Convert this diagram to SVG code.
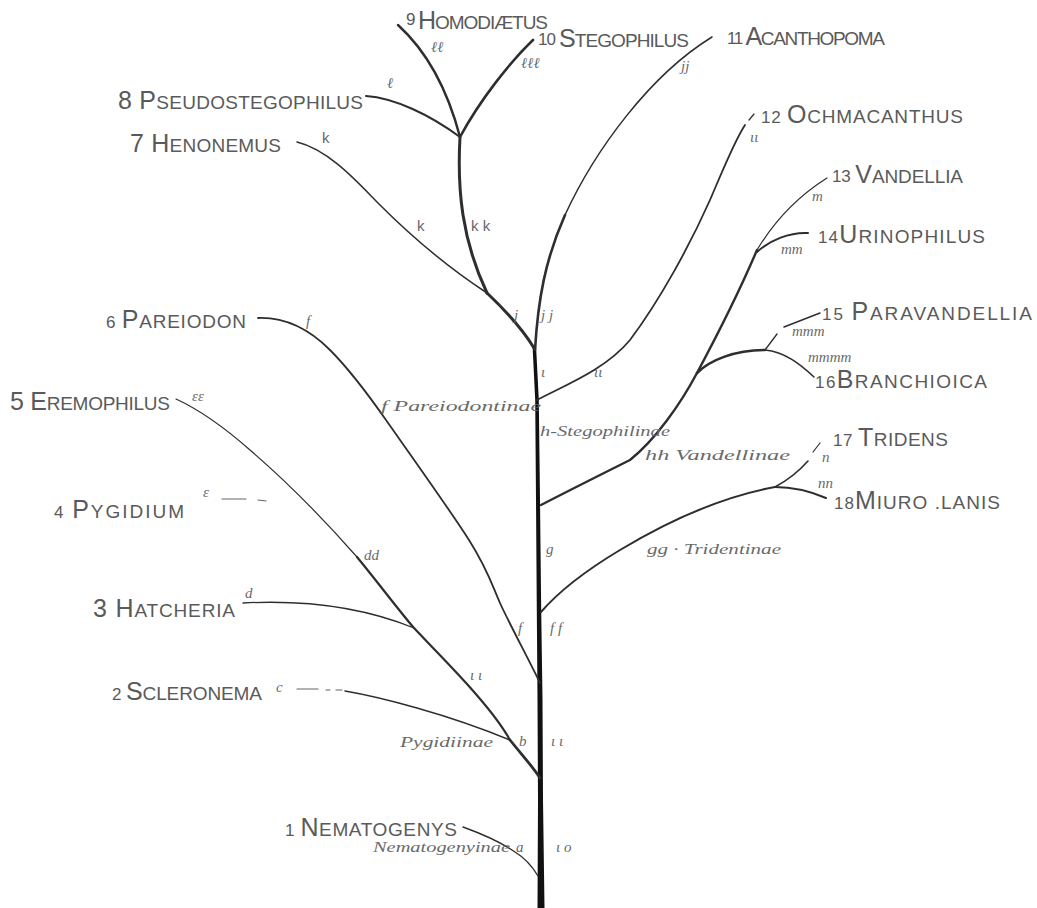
<svg xmlns="http://www.w3.org/2000/svg" width="1037" height="908" viewBox="0 0 1037 908">
<style>
.lbl{font-family:"Liberation Sans",Arial,sans-serif;fill:#5a5a5a}
.num{font-size:17px}
.cap{font-size:25px}
.sc{font-size:19px}
.cur{font-family:"Liberation Serif","Times New Roman",serif;font-style:italic;fill:#6a6a6a;font-size:15px}
.mk{font-family:"Liberation Sans",Arial,sans-serif;fill:#666;font-size:15px}
.br{fill:none;stroke:#2e2e2e;stroke-linecap:round;stroke-linejoin:round}
.th{fill:none;stroke:#666;stroke-linecap:round}
</style>
<rect width="1037" height="908" fill="#fff"/>
<g id="connectors">
  <path d="M537.5,908 L538,800 L537.5,700 L536.8,610 L536,500 L535.2,400 L532.5,345 L536,345 L538.8,400 L540,500 L541.2,610 L542.5,700 L543,800 L544.5,908 Z" fill="#111"/>
  <path class="br" stroke-width="2.4" d="M398,25 C420,45 445,80 460,137"/>
  <path class="br" stroke-width="2.6" d="M533,40 C510,62 480,100 460,137"/>
  <path class="br" stroke-width="2" d="M366,96 C395,98 430,115 460,137"/>
  <path class="br" stroke-width="3" d="M460,137 C457,190 462,240 487,293"/>
  <path class="br" stroke-width="1.5" d="M297,142 C330,150 360,185 380,205 C420,245 455,272 487,293"/>
  <path class="br" stroke-width="3" d="M487,293 C505,310 522,328 534,348"/>
  <path class="br" stroke-width="2.6" d="M535,350 C538,300 545,260 565,215"/>
  <path class="br" stroke-width="1.5" d="M565,215 C595,150 650,75 712,37"/>
  <path class="br" stroke-width="1.8" d="M537,400 C565,385 605,370 630,340 C660,300 690,245 710,200 C725,165 735,140 745,125"/>
  <path class="br" stroke-width="1.2" d="M749,120 L754,114"/>
  <path class="br" stroke-width="2.4" d="M541,505 C570,490 610,470 630,460 C655,440 680,405 697,373 C720,330 740,290 757,250"/>
  <path class="br" stroke-width="1.2" d="M757,250 C775,220 800,195 827,178"/>
  <path class="br" stroke-width="2" d="M757,252 C770,240 790,232 808,233"/>
  <path class="br" stroke-width="2.6" d="M697,373 C710,360 735,350 765,350"/>
  <path class="br" stroke-width="1.3" d="M765,350 L777,334"/>
  <path class="br" stroke-width="1.5" d="M784,327 L820,313"/>
  <path class="br" stroke-width="1.6" d="M765,350 C785,352 800,364 814,377"/>
  <path class="br" stroke-width="2" d="M541,612 C560,590 590,568 620,550 C670,520 720,497 775,487"/>
  <path class="br" stroke-width="1.6" d="M775,487 C788,480 800,470 808,461"/>
  <path class="br" stroke-width="1.2" d="M813,452 L820,443"/>
  <path class="br" stroke-width="2" d="M775,487 C795,487 812,492 826,498"/>
  <path class="br" stroke-width="1.8" d="M258,318 C285,317 310,330 330,350 S372,400 386,420 S450,510 469,540 S492,585 500,603 S530,662 540,683"/>
  <path class="br" stroke-width="1.2" d="M176,399 C200,410 225,428 250,450 C285,480 320,515 357,557"/>
  <path class="br" stroke-width="2.2" d="M357,557 C380,585 400,612 414,628 C430,645 450,665 467,684 C485,704 500,722 510,740"/>
  <path class="br" stroke-width="2.8" d="M510,740 C522,755 533,767 540,778"/>
  <path class="br" stroke-width="1.3" d="M243,603 C300,600 360,606 414,628"/>
  <path class="th" stroke-width="1.2" d="M297,689 L318,689 M326,690 L330,690 M336,690 L342,690"/>
  <path class="br" stroke-width="1.4" d="M345,691 C380,697 447,714 510,740"/>
  <path class="br" stroke-width="1.4" d="M463,827 C485,835 505,845 515,852 C525,858 532,866 538,876"/>
  <path class="th" stroke-width="1.2" d="M222,499 L246,499 M258,500 L266,501"/>
</g>
<g id="n9"><text class="lbl" x="406" y="29" textLength="142" lengthAdjust="spacing"><tspan class="num" dy="-4">9 </tspan><tspan class="cap" dy="4">H</tspan><tspan class="sc">OMODIÆTUS</tspan></text></g>
<g id="n10"><text class="lbl" x="538" y="47" textLength="151" lengthAdjust="spacing"><tspan class="num" dy="-2">10 </tspan><tspan class="cap" dy="2">S</tspan><tspan class="sc">TEGOPHILUS</tspan></text></g>
<g id="n11"><text class="lbl" x="727" y="45" textLength="158" lengthAdjust="spacing"><tspan class="num" dy="-1">11 </tspan><tspan class="cap" dy="1">A</tspan><tspan class="sc">CANTHOPOMA</tspan></text></g>
<g id="n8"><text class="lbl" x="118" y="109" textLength="245" lengthAdjust="spacing"><tspan class="cap">8 P</tspan><tspan class="sc">SEUDOSTEGOPHILUS</tspan></text></g>
<g id="n7"><text class="lbl" x="130" y="152" textLength="151" lengthAdjust="spacing"><tspan class="cap">7 H</tspan><tspan class="sc">ENONEMUS</tspan></text></g>
<g id="n12"><text class="lbl" x="761" y="123" textLength="202" lengthAdjust="spacing"><tspan class="num">12 </tspan><tspan class="cap">O</tspan><tspan class="sc">CHMACANTHUS</tspan></text></g>
<g id="n13"><text class="lbl" x="832" y="183" textLength="131" lengthAdjust="spacing"><tspan class="num" dy="-1">13 </tspan><tspan class="cap" dy="1">V</tspan><tspan class="sc">ANDELLIA</tspan></text></g>
<g id="n14"><text class="lbl" x="818" y="243" textLength="167" lengthAdjust="spacing"><tspan class="num">14</tspan><tspan class="cap">U</tspan><tspan class="sc">RINOPHILUS</tspan></text></g>
<g id="n15"><text class="lbl" x="822" y="320" textLength="210" lengthAdjust="spacing"><tspan class="num">15 </tspan><tspan class="cap">P</tspan><tspan class="sc">ARAVANDELLIA</tspan></text></g>
<g id="n16"><text class="lbl" x="815" y="388" textLength="172" lengthAdjust="spacing"><tspan class="num">16</tspan><tspan class="cap">B</tspan><tspan class="sc">RANCHIOICA</tspan></text></g>
<g id="n17"><text class="lbl" x="833" y="446" textLength="115" lengthAdjust="spacing"><tspan class="num">17 </tspan><tspan class="cap">T</tspan><tspan class="sc">RIDENS</tspan></text></g>
<g id="n18"><text class="lbl" x="834" y="509" textLength="166" lengthAdjust="spacing"><tspan class="num">18</tspan><tspan class="cap">M</tspan><tspan class="sc">IURO .LANIS</tspan></text></g>
<g id="n6"><text class="lbl" x="106" y="328" textLength="140" lengthAdjust="spacing"><tspan class="num">6 </tspan><tspan class="cap">P</tspan><tspan class="sc">AREIODON</tspan></text></g>
<g id="n5"><text class="lbl" x="10" y="410" textLength="160" lengthAdjust="spacing"><tspan class="cap">5 E</tspan><tspan class="sc">REMOPHILUS</tspan></text></g>
<g id="n4"><text class="lbl" x="54" y="518" textLength="130" lengthAdjust="spacing"><tspan class="num">4 </tspan><tspan class="cap">P</tspan><tspan class="sc">YGIDIUM</tspan></text></g>
<g id="n3"><text class="lbl" x="93" y="617" textLength="142" lengthAdjust="spacing"><tspan class="cap">3 H</tspan><tspan class="sc">ATCHERIA</tspan></text></g>
<g id="n2"><text class="lbl" x="112" y="700" textLength="150" lengthAdjust="spacing"><tspan class="num">2 </tspan><tspan class="cap">S</tspan><tspan class="sc">CLERONEMA</tspan></text></g>
<g id="n1"><text class="lbl" x="285" y="836" textLength="172" lengthAdjust="spacing"><tspan class="num">1 </tspan><tspan class="cap">N</tspan><tspan class="sc">EMATOGENYS</tspan></text></g>
<g id="annotations">
  <text class="cur" x="431" y="52">ℓℓ</text>
  <text class="cur" x="521" y="68">ℓℓℓ</text>
  <text class="cur" x="387" y="88">ℓ</text>
  <text class="mk" x="322" y="143">k</text>
  <text class="mk" x="417" y="231">k</text>
  <text class="mk" x="471" y="231">k k</text>
  <text class="cur" x="514" y="320">j</text>
  <text class="cur" x="541" y="320">j j</text>
  <text class="cur" x="681" y="71">jj</text>
  <text class="cur" x="541" y="377">ι</text>
  <text class="cur" x="594" y="377">ιι</text>
  <text class="cur" x="750" y="142">ιι</text>
  <text class="cur" x="812" y="201">m</text>
  <text class="cur" x="781" y="254">mm</text>
  <text class="cur" x="792" y="336">mmm</text>
  <text class="cur" x="808" y="362">mmmm</text>
  <text class="cur" x="822" y="462">n</text>
  <text class="cur" x="818" y="488">nn</text>
  <text class="cur" x="540" y="436" textLength="130" lengthAdjust="spacingAndGlyphs">h-Stegophilinae</text>
  <text class="cur" x="645" y="460" textLength="145" lengthAdjust="spacingAndGlyphs">hh Vandellinae</text>
  <text class="cur" x="546" y="554">g</text>
  <text class="cur" x="647" y="554" textLength="134" lengthAdjust="spacingAndGlyphs">gg · Tridentinae</text>
  <text class="cur" x="518" y="633">f</text>
  <text class="cur" x="550" y="633">f f</text>
  <text class="cur" x="306" y="326">f</text>
  <text class="cur" x="381" y="411" textLength="160" lengthAdjust="spacingAndGlyphs">f Pareiodontinae</text>
  <text class="cur" x="192" y="401" font-size="11">εε</text>
  <text class="cur" x="203" y="497" font-size="11">ε</text>
  <text class="cur" x="364" y="560">dd</text>
  <text class="cur" x="245" y="598" font-size="13">d</text>
  <text class="cur" x="470" y="680" font-size="11">ι ι</text>
  <text class="cur" x="276" y="692" font-size="12">c</text>
  <text class="cur" x="400" y="747" textLength="93" lengthAdjust="spacingAndGlyphs">Pygidiinae</text>
  <text class="cur" x="519" y="746">b</text>
  <text class="cur" x="551" y="746" font-size="12">ι ι</text>
  <text class="cur" x="373" y="852" textLength="137" lengthAdjust="spacingAndGlyphs">Nematogenyinae</text>
  <text class="cur" x="516" y="852">a</text>
  <text class="cur" x="556" y="852" font-size="12">ι ο</text>
</g>
</svg>
